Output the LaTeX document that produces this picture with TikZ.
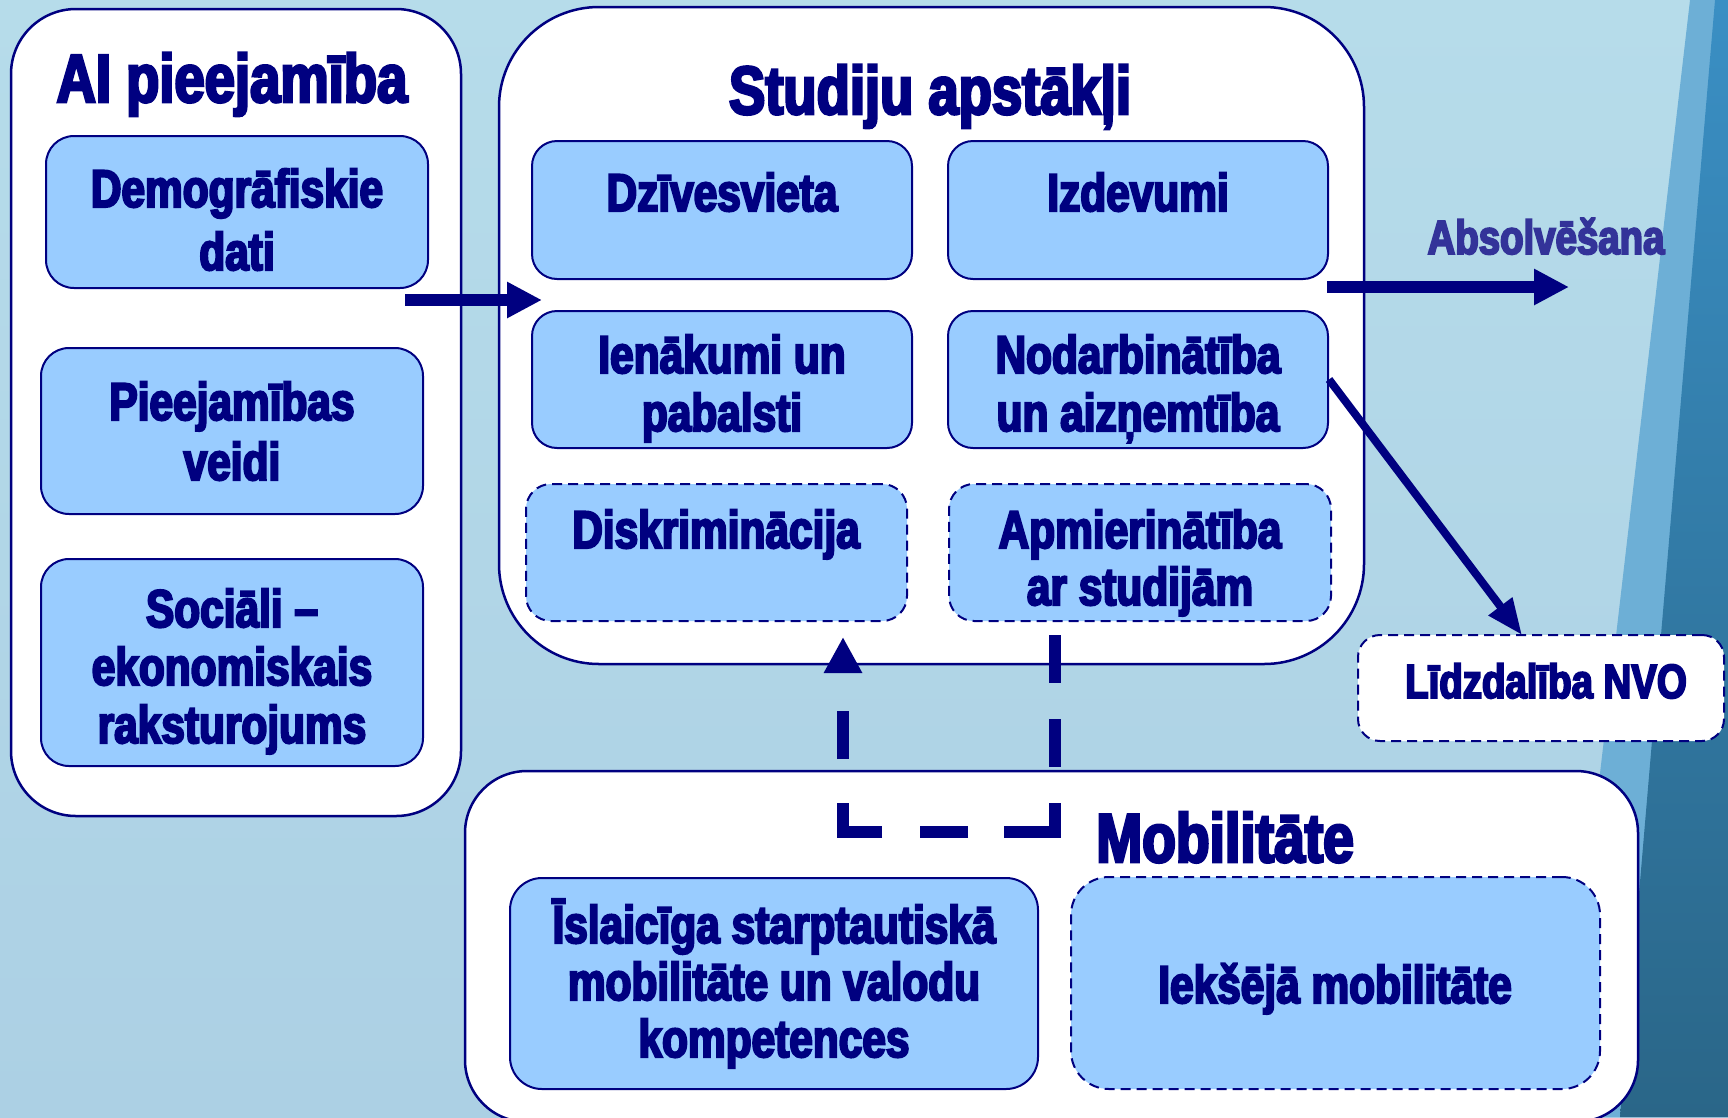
\documentclass[tikz,border=0pt]{standalone}
\usepackage{fontspec}
\newfontfamily\imp{Liberation Sans Bold}[FakeStretch=0.8,FakeBold=4]
\usetikzlibrary{arrows.meta}
\definecolor{navy}{HTML}{000080}
\definecolor{boxblue}{HTML}{99CCFF}
\definecolor{absol}{HTML}{333399}
\definecolor{bgblue}{HTML}{ACD0E4}
\definecolor{bglight}{HTML}{B6DCEA}
\definecolor{bandmid}{HTML}{6DAFD6}
\definecolor{banddarktop}{HTML}{3A8FC4}
\definecolor{banddarkbot}{HTML}{2A6688}
\newcommand\ml[1]{\begin{tabular}[t]{@{}c@{}}#1\end{tabular}}
\begin{document}
\begin{tikzpicture}[x=1pt,y=-1pt,
  panel/.style={draw=navy, line width=2.5pt, fill=white, rectangle, inner sep=0pt},
  box/.style={draw=navy, line width=2pt, fill=boxblue, rectangle, inner sep=0pt},
  dbox/.style={box, dash pattern=on 10pt off 6pt},
  txt/.style={text=navy, inner sep=0pt, anchor=base},
  ttlfont/.style={font=\imp\fontsize{68}{74}\selectfont},
  boxfont/.style={font=\imp\fontsize{53}{#1}\selectfont},
  boxfont/.default=58,
  bigarrow/.style={draw=navy, line width=12pt, -{Triangle[length=35pt,width=34pt]}},
  slimarrow/.style={draw=navy, line width=8pt, -{Triangle[length=36pt,width=28pt]}},
  dasharrow/.style={draw=navy, line width=12pt,
    dash pattern=on 48pt off 36pt on 48pt off 36pt on 80pt off 36pt on 48pt off 38pt on 68pt off 44pt on 48pt off 300pt,
    -{Triangle[length=36pt,width=36pt]}}
]
\useasboundingbox (0,0) rectangle (1728,1117);
% background
\shade[top color=bglight, bottom color=bgblue] (0,0) rectangle (1728,1117);
\fill[bandmid] (1690,0) -- (1728,0) -- (1728,1117) -- (1560,1117) -- cycle;
\shade[top color=banddarktop, bottom color=banddarkbot] (1715,0) -- (1728,0) -- (1728,1117) -- (1620,1117) -- cycle;

% panels
\node[panel, rounded corners=65pt, minimum width=450pt, minimum height=807pt] (p1) at (236,412.5) {};
\node[panel, rounded corners=100pt, minimum width=865pt, minimum height=657pt] (p2) at (931.5,335.5) {};
\node[panel, rounded corners=62pt, minimum width=1173pt, minimum height=351pt] (p3) at (1051.5,946.5) {};

% titles
\node[txt, ttlfont] (t1) at (232,102) {AI pieejamība};
\node[txt, ttlfont] (t2) at (930,114) {Studiju apstākļi};
\node[txt, font=\imp\fontsize{69}{74}\selectfont] (t3) at (1225,862) {Mobilitāte};

% left boxes
\node[box, rounded corners=28pt, minimum width=382pt, minimum height=152pt] (demog) at (237,212) {};
\node[box, rounded corners=28pt, minimum width=382pt, minimum height=166pt] (pieej) at (232,431) {};
\node[box, rounded corners=28pt, minimum width=382pt, minimum height=207pt] (soc) at (232,662.5) {};
\node[txt, boxfont=63] (tdemog) at (237,207) {\ml{Demogrāfiskie\\dati}};
\node[txt, boxfont=60] (tpieej) at (232,420) {\ml{Pieejamības\\veidi}};
\node[txt, boxfont] (tsoc) at (232,627) {\ml{Sociāli –\\ekonomiskais\\raksturojums}};

% middle boxes
\node[box, rounded corners=25pt, minimum width=380pt, minimum height=138pt] (dziv) at (722,210) {};
\node[box, rounded corners=25pt, minimum width=380pt, minimum height=138pt] (izd) at (1138,210) {};
\node[box, rounded corners=25pt, minimum width=380pt, minimum height=137pt] (ien) at (722,379.5) {};
\node[box, rounded corners=25pt, minimum width=380pt, minimum height=137pt] (nod) at (1138,379.5) {};
\node[dbox, rounded corners=25pt, minimum width=381pt, minimum height=137pt] (disk) at (716.5,552.5) {};
\node[dbox, rounded corners=25pt, minimum width=382pt, minimum height=137pt] (apm) at (1140,552.5) {};
\node[txt, boxfont] (tdziv) at (722,211) {Dzīvesvieta};
\node[txt, boxfont] (tizd) at (1138,211) {Izdevumi};
\node[txt, boxfont] (tien) at (722,373) {\ml{Ienākumi un\\pabalsti}};
\node[txt, boxfont] (tnod) at (1138,373) {\ml{Nodarbinātība\\un aizņemtība}};
\node[txt, boxfont] (tdisk) at (716,548) {Diskriminācija};
\node[txt, boxfont=57] (tapm) at (1140,548) {\ml{Apmierinātība\\ar studijām}};

% NVO box
\node[dbox, fill=white, rounded corners=22pt, minimum width=366pt, minimum height=106pt] (nvo) at (1541,688) {};
\node[txt, font=\imp\fontsize{48}{52}\selectfont] (tnvo) at (1546,698) {Līdzdalība NVO};

% Absolvesana
\node[txt, text=absol, font=\imp\fontsize{48}{52}\selectfont] (tabs) at (1546,254) {Absolvēšana};

% mobility boxes
\node[box, rounded corners=32pt, minimum width=528pt, minimum height=211pt] (isl) at (774,983.5) {};
\node[dbox, rounded corners=38pt, minimum width=529pt, minimum height=212pt] (iek) at (1335.5,983) {};
\node[txt, boxfont=57] (tisl) at (774,943) {\ml{Īslaicīga starptautiskā\\mobilitāte un valodu\\kompetences}};
\node[txt, boxfont] (tiek) at (1335,1003) {Iekšējā mobilitāte};

% connectors
\coordinate (a1s) at (405,300);
\coordinate (a1e) at (542,300);
\draw[bigarrow] (a1s) -- (a1e);
\coordinate (a2s) at (1327,287);
\coordinate (a2e) at (1569,287);
\draw[bigarrow] (a2s) -- (a2e);
\coordinate (a3e) at (1522,635);
\draw[slimarrow] (nod.east) -- (a3e);
\coordinate (ds) at (1055,635);
\coordinate (dc1) at (1055,832);
\coordinate (dc2) at (843,832);
\coordinate (de) at (843,637);
\draw[dasharrow] (ds) -- (dc1) -- (dc2) -- (de);
\end{tikzpicture}
\end{document}
